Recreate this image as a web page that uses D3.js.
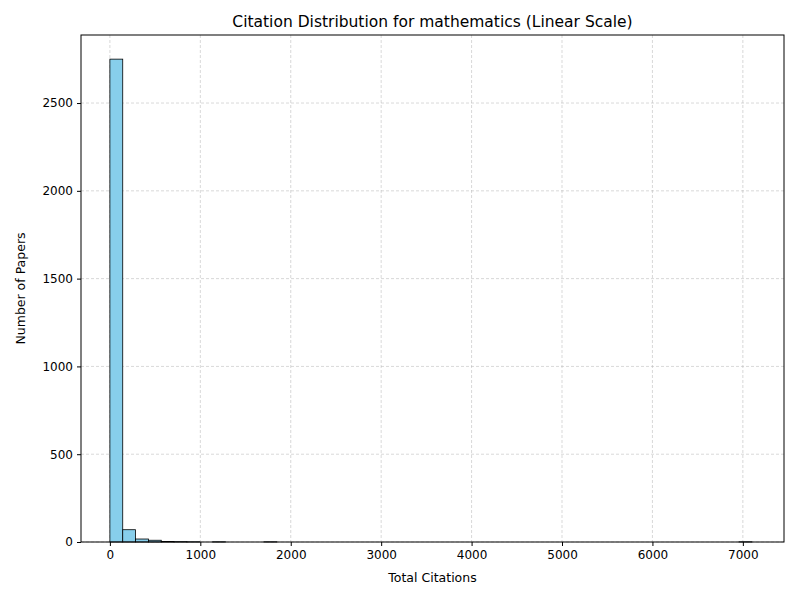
<!DOCTYPE html>
<html><head><meta charset="utf-8">
<script src="https://cdn.jsdelivr.net/npm/d3@7"></script>
<style>body{margin:0;background:#fff;font-family:"DejaVu Sans",sans-serif;}</style>
</head><body><div id="chart"></div>
<script>
// Histogram: 50 bins over 0..7100 citations
const binStart = 0;
const binWidth = 142;
const counts = [2750, 70, 17, 10, 3, 2, 1, 0, 1, 0,
  0, 0, 1, 0, 0, 0, 0, 0, 0, 0,
  0, 0, 0, 0, 0, 0, 0, 0, 0, 0,
  0, 0, 0, 0, 0, 0, 0, 0, 0, 0,
  0, 0, 0, 0, 0, 0, 0, 0, 0, 1];
const xTicks = [0, 1000, 2000, 3000, 4000, 5000, 6000, 7000];
const yTicks = [0, 500, 1000, 1500, 2000, 2500];

const W = 800, H = 600;
const M = { top: 35, right: 16, bottom: 58, left: 81 };
const w = W - M.left - M.right, h = H - M.top - M.bottom;

const svg = d3.select('#chart').append('svg').attr('width', W).attr('height', H);
const g = svg.append('g').attr('transform', `translate(${M.left},${M.top})`);

const xMax = binStart + binWidth * counts.length;
const x = d3.scaleLinear().domain([-0.045 * xMax, 1.05 * xMax]).range([0, w]);
const y = d3.scaleLinear().domain([0, 2750 * 1.05]).range([h, 0]);

// grid
g.append('g').selectAll('line').data(xTicks).enter().append('line')
  .attr('x1', d => x(d)).attr('x2', d => x(d)).attr('y1', 0).attr('y2', h)
  .attr('stroke', '#b0b0b0').attr('stroke-width', 0.5).attr('stroke-dasharray', '3,2');
g.append('g').selectAll('line').data(yTicks).enter().append('line')
  .attr('x1', 0).attr('x2', w).attr('y1', d => y(d)).attr('y2', d => y(d))
  .attr('stroke', '#b0b0b0').attr('stroke-width', 0.5).attr('stroke-dasharray', '3,2');

// bars
g.selectAll('.bar').data(counts).enter().append('rect')
  .attr('x', (d, i) => x(binStart + i * binWidth))
  .attr('width', x(binWidth) - x(0))
  .attr('y', d => y(d))
  .attr('height', d => h - y(d))
  .attr('fill', '#87ceeb').attr('stroke', '#000').attr('stroke-width', 0.8);

// axes
const xa = g.append('g').attr('transform', `translate(0,${h})`)
  .call(d3.axisBottom(x).tickValues(xTicks).tickSize(4).tickPadding(4).tickFormat(d3.format('d')));
const ya = g.append('g')
  .call(d3.axisLeft(y).tickValues(yTicks).tickSize(4).tickPadding(4).tickFormat(d3.format('d')));
[xa, ya].forEach(a => {
  a.selectAll('text').attr('font-size', '12px').attr('fill', '#000').attr('font-family', 'DejaVu Sans');
  a.select('.domain').remove();
});
g.append('rect').attr('width', w).attr('height', h).attr('fill', 'none').attr('stroke', '#000').attr('stroke-width', 1);

svg.append('text').attr('x', M.left + w / 2).attr('y', 27).attr('text-anchor', 'middle')
  .attr('font-size', '15.5px').text('Citation Distribution for mathematics (Linear Scale)');
svg.append('text').attr('x', M.left + w / 2).attr('y', 582).attr('text-anchor', 'middle')
  .attr('font-size', '12.5px').text('Total Citations');
svg.append('text').attr('transform', `translate(25,${M.top + h / 2}) rotate(-90)`).attr('text-anchor', 'middle')
  .attr('font-size', '12.5px').text('Number of Papers');
</script></body></html>
